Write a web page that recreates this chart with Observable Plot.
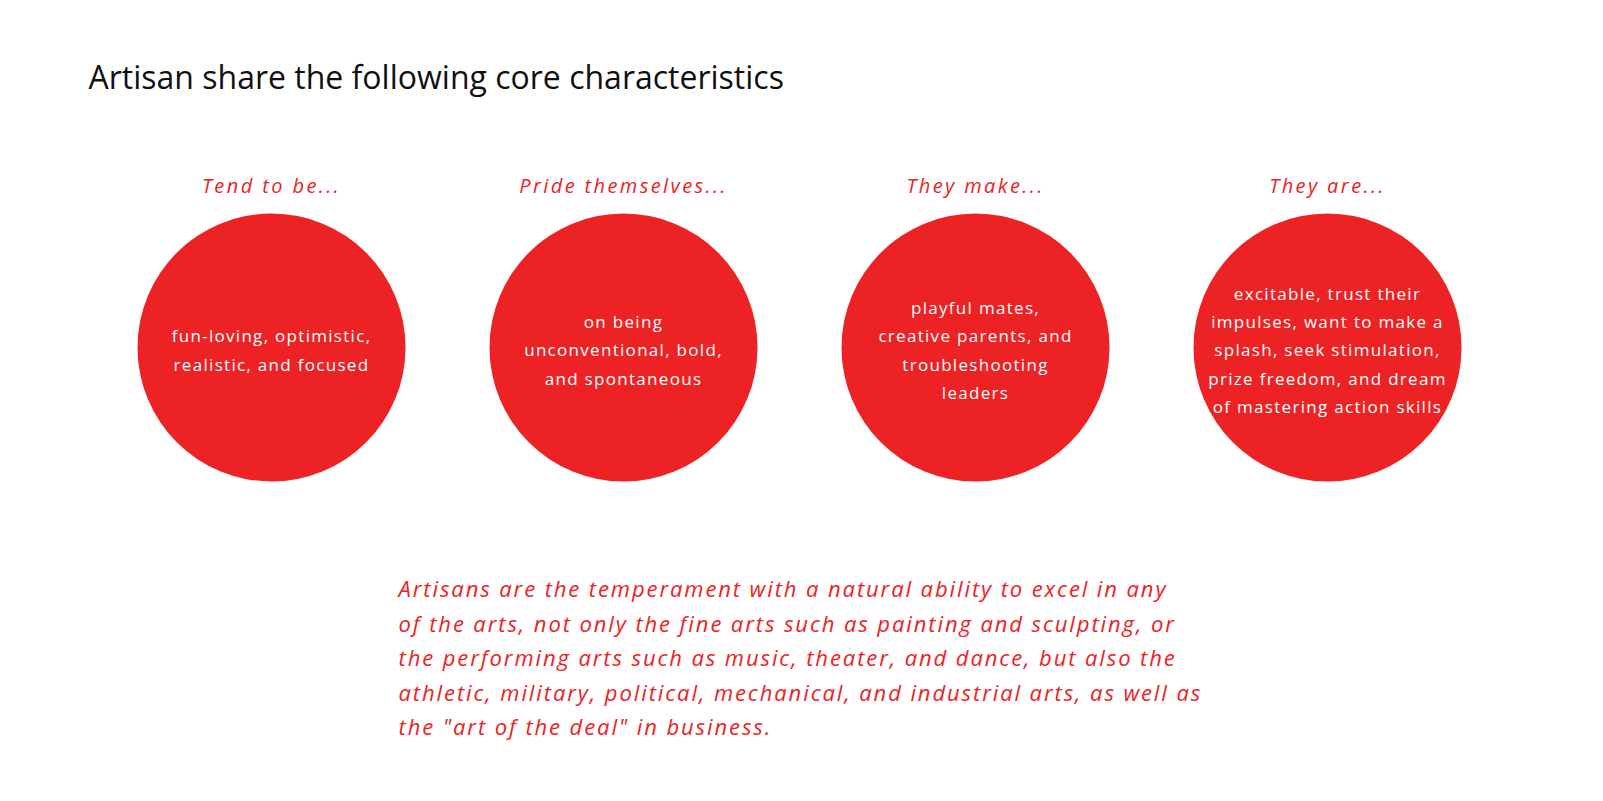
<!DOCTYPE html>
<html>
<head>
<meta charset="utf-8">
<script src="https://cdn.jsdelivr.net/npm/d3@7"></script>
<script src="https://cdn.jsdelivr.net/npm/@observablehq/plot@0.6"></script>
<style>
  body { margin: 0; background: #fff; overflow: hidden; }
</style>
</head>
<body>
<div id="chart"></div>
<script>
const title = "Artisan share the following core characteristics";
const headings = ["Tend to be...", "Pride themselves...", "They make...", "They are..."];
const bodies = [
  "fun-loving, optimistic,\nrealistic, and focused",
  "on being\nunconventional, bold,\nand spontaneous",
  "playful mates,\ncreative parents, and\ntroubleshooting\nleaders",
  "excitable, trust their\nimpulses, want to make a\nsplash, seek stimulation,\nprize freedom, and dream\nof mastering action skills"
];
const summary = "Artisans are the temperament with a natural ability to excel in any\nof the arts, not only the fine arts such as painting and sculpting, or\nthe performing arts such as music, theater, and dance, but also the\nathletic, military, political, mechanical, and industrial arts, as well as\nthe \"art of the deal\" in business.";

const red = "#ED2224";
const cards = headings.map((h, i) => ({heading: h, body: bodies[i]}));

const chart = Plot.plot({
  width: 1603,
  height: 801,
  margin: 0,
  x: {type: "point", domain: headings, range: [270, 1327], padding: 0, axis: null},
  y: {type: "identity", axis: null},
  style: {fontFamily: "Open Sans", background: "#fff", maxWidth: "none"},
  marks: [
    Plot.dot(cards, {x: "heading", y: () => 347, r: 134, fill: red, stroke: "none"}),
    Plot.text(cards, {x: "heading", y: () => 186, text: "heading", fill: red,
      fontSize: 20, fontStyle: "italic"}),
    Plot.text(cards, {x: "heading", y: () => 347, text: "body", fill: "#fff",
      fontSize: 17, lineHeight: 1.65}),
    Plot.text([title], {frameAnchor: "top-left", dx: 88, dy: 78, text: d => d,
      fill: "#111", fontSize: 32, textAnchor: "start", lineAnchor: "middle"}),
    Plot.text([summary], {frameAnchor: "top-left", dx: 398, dy: 572, text: d => d,
      fill: red, fontSize: 22, fontStyle: "italic", textAnchor: "start",
      lineAnchor: "top", lineHeight: 1.57})
  ]
});

// letter spacing per text layer: headings, bodies, title, summary
const spacing = ["2.4px", "1.3px", "0px", "1.9px"];
d3.select(chart).selectAll("g[aria-label=text]").each(function(_, i) {
  d3.select(this).style("letter-spacing", spacing[i]);
});

d3.select("#chart").append(() => chart);
</script>
</body>
</html>
